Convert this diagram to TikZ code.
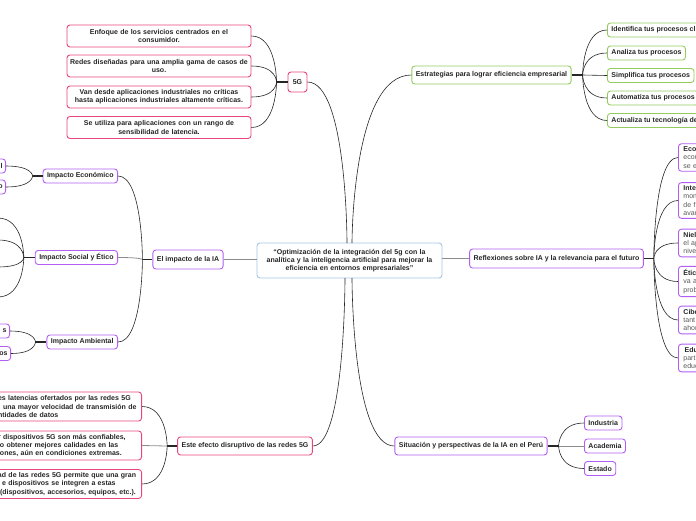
\documentclass[tikz,border=0pt]{standalone}
\usepackage{fontspec}
\setmainfont{Liberation Sans}
\usetikzlibrary{positioning}
\definecolor{rootc}{HTML}{A5C6E2}
\definecolor{pinkc}{HTML}{E8457C}
\definecolor{purpc}{HTML}{B25EF2}
\definecolor{greenc}{HTML}{93CB5E}
\definecolor{inkc}{HTML}{262626}

\begin{document}
\begin{tikzpicture}[
        x=1pt, y=-1pt,
        font=\fontsize{7}{8.2}\selectfont\bfseries,
        root/.style   = {draw=rootc, line width=0.9pt, rounded corners=3pt, fill=white, text=inkc, minimum width=185pt, minimum height=35pt, text width=179pt, align=center, inner sep=0pt},
        branch/.style = {draw=#1, line width=0.9pt, rounded corners=3pt, fill=white, text=inkc, minimum height=18pt, inner xsep=4pt, inner ysep=1pt},
        leaf/.style   = {branch=#1, minimum height=14pt},
        card/.style   = {branch=pinkc, minimum height=22pt, text width=180pt, align=center, inner xsep=2pt},
        blurb/.style  = {branch=pinkc, minimum height=29pt, text width=141pt, align=left, inner xsep=2.5pt, anchor=east},
        memo/.style   = {branch=purpc, text=black!65, font=\fontsize{7}{8.3}\selectfont\mdseries, text width=50pt, align=left, inner xsep=5pt, inner ysep=3pt, anchor=west},
        cut/.style    = {leaf=purpc, anchor=east, text width=26pt, align=right, inner xsep=3pt},
        link/.style   = {draw=black!85, line width=0.6pt},
        flat/.style   = {draw=black!45, line width=0.8pt},
        stub/.style   = {draw=black!85, line width=1.8pt},
    ]
        \useasboundingbox (0,0) rectangle (696,520);
        \clip (0,0) rectangle (696,520);

        % Root
        \node[root] (ctr) at (349.5,260.5) {“Optimización de la integración del 5g con la\\analítica y la inteligencia artificial para mejorar la\\eficiencia en entornos empresariales”};
        \coordinate (ct1) at (347,243);
        \coordinate (ct2) at (352,243);
        \coordinate (cb1) at (345,278);
        \coordinate (cb2) at (352,278);

        % 5G
        \node[branch=pinkc, minimum width=19pt, minimum height=20pt, inner xsep=2pt] (g5) at (297.5,82) {5G};
        \coordinate[left=11pt of g5.west] (j5);
        \node[card] (g5a) at (159,36) {Enfoque de los servicios centrados en el\\consumidor.};
        \node[card] (g5b) at (159,66) {Redes diseñadas para una amplia gama de casos de\\uso.};
        \node[card] (g5c) at (159,97) {Van desde aplicaciones industriales no críticas\\hasta aplicaciones industriales altamente críticas.};
        \node[card] (g5d) at (159,127.5) {Se utiliza para aplicaciones con un rango de\\sensibilidad de latencia.};

        % Estrategias
        \node[branch=greenc] (est) at (491.5,75) {Estrategias para lograr eficiencia empresarial};
        \coordinate[right=11pt of est.east] (je);
        \node[leaf=greenc, anchor=west] (esa) at (607,30) {Identifica tus procesos cl};
        \node[leaf=greenc, anchor=west] (esb) at (607,53) {Analiza tus procesos};
        \node[leaf=greenc, anchor=west] (esc) at (607,75.5) {Simplifica tus procesos};
        \node[leaf=greenc, anchor=west] (esd) at (607,98) {Automatiza tus procesos};
        \node[leaf=greenc, anchor=west] (ese) at (607,120.5) {Actualiza tu tecnología de};

        % El impacto de la IA
        \node[branch=purpc, minimum height=19pt] (ia) at (188,259.5) {El impacto de la IA};
        \coordinate[left=10pt of ia.west] (ji);
        \node[leaf=purpc, anchor=east] (eco) at (118,176) {Impacto Económico};
        \node[leaf=purpc, anchor=east] (soc) at (118,257.5) {Impacto Social y Ético};
        \node[leaf=purpc, anchor=east] (amb) at (118,342) {Impacto Ambiental};
        \coordinate[left=10pt of eco.west] (jeco);
        \coordinate[left=11pt of soc.west] (jsoc);
        \coordinate[left=11pt of amb.west] (jamb);
        \node[cut] (eco1) at (6,166) {l};
        \node[cut] (eco2) at (6,187) {o};
        \coordinate (soc1) at (-2,218);
        \coordinate (soc2) at (-2,240);
        \coordinate (soc3) at (-2,267);
        \coordinate (soc4) at (-2,297);
        \node[cut] (amb1) at (10,331) {s};
        \node[cut] (amb2) at (11,353.5) {os};

        % Reflexiones
        \node[branch=purpc, minimum height=19pt] (ref) at (556.5,258.5) {Reflexiones sobre IA y la relevancia para el futuro};
        \coordinate[right=10pt of ref.east] (jr);
        \node[memo] (ref1) at (678,157.5) {\textbf{\color{inkc}Eco}\\econo\\se e};
        \node[memo] (ref2) at (678,200.5) {\textbf{\color{inkc}Inte}\\mon\\de f\\avan};
        \node[memo] (ref3) at (678,243) {\textbf{\color{inkc}Niel}\\el ap\\nive};
        \node[memo] (ref4) at (678,281.5) {\textbf{\color{inkc}Étic}\\va a\\prob};
        \node[memo] (ref5) at (678,320) {\textbf{\color{inkc}Cibe}\\tant\\ahor};
        \node[memo] (ref6) at (678,358) {\textbf{\color{inkc}\,Edu}\\part\\educ};

        % Efecto disruptivo
        \node[branch=pinkc] (efe) at (245,446) {Este efecto disruptivo de las redes 5G};
        \coordinate[left=10pt of efe.west] (jf);
        \node[blurb] (efe1) at (142,406.5) {es latencias ofertados por las redes 5G\\\hspace{5pt}una mayor velocidad de transmisión de\\ntidades de datos};
        \node[blurb] (efe2) at (142,445.5) {r dispositivos 5G son más confiables,\\lo obtener mejores calidades en las\\iones, aún en condiciones extremas.};
        \node[blurb] (efe3) at (142,484) {\hspace*{-2pt}lad de las redes 5G permite que una gran\\\hspace{4pt}e dispositivos se integren a estas\\\hspace{2pt}(dispositivos, accesorios, equipos, etc.).};

        % Situacion en el Peru
        \node[branch=purpc] (sit) at (471,446) {Situación y perspectivas de la IA en el Perú};
        \coordinate[right=11pt of sit.east] (jp);
        \node[leaf=purpc, anchor=west] (ind) at (584,423) {Industria};
        \node[leaf=purpc, anchor=west] (aca) at (584,446) {Academia};
        \node[leaf=purpc, anchor=west] (sta) at (584,468.5) {Estado};

        % Root links
        \draw[link] (g5.east) .. controls (g5.east -| ct1) and (ct1) .. (ct1);
        \draw[link] (est.west) .. controls (est.west -| ct2) and (ct2) .. (ct2);
        \draw[link] (efe.east) .. controls (efe.east -| cb1) and (cb1) .. (cb1);
        \draw[link] (sit.west) .. controls (sit.west -| cb2) and (cb2) .. (cb2);
        \draw[flat] (ia.east) -- (ia.east -| ctr.west);
        \draw[flat] (ref.west) -- (ref.west -| ctr.east);

        % Stubs
        \draw[stub] (j5) -- (g5.west);
        \draw[stub] (je) -- (est.east);
        \draw[stub] (ji) -- (ia.west);
        \draw[stub] (jeco) -- (eco.west);
        \draw[stub] (jsoc) -- (soc.west);
        \draw[stub] (jamb) -- (amb.west);
        \draw[stub] (jr) -- (ref.east);
        \draw[stub] (jf) -- (efe.west);
        \draw[stub] (jp) -- (sit.east);

        % 5G links
        \draw[link] (g5a.east) .. controls (g5a.east -| j5) and (j5) .. (j5);
        \draw[link] (g5b.east) .. controls (g5b.east -| j5) and (j5) .. (j5);
        \draw[link] (g5c.east) .. controls (g5c.east -| j5) and (j5) .. (j5);
        \draw[link] (g5d.east) .. controls (g5d.east -| j5) and (j5) .. (j5);

        % Estrategias links
        \draw[link] (esa.west) .. controls (esa.west -| je) and (je) .. (je);
        \draw[link] (esb.west) .. controls (esb.west -| je) and (je) .. (je);
        \draw[link] (esc.west) -- (je);
        \draw[link] (esd.west) .. controls (esd.west -| je) and (je) .. (je);
        \draw[link] (ese.west) .. controls (ese.west -| je) and (je) .. (je);

        % Impacto links
        \draw[link] (eco.east) .. controls (eco.east -| ji) and (ji) .. (ji);
        \draw[flat] (soc.east) .. controls (soc.east -| ji) and (ji) .. (ji);
        \draw[link] (amb.east) .. controls (amb.east -| ji) and (ji) .. (ji);
        \draw[link] (eco1.east) .. controls (eco1.east -| jeco) and (jeco) .. (jeco);
        \draw[link] (eco2.east) .. controls (eco2.east -| jeco) and (jeco) .. (jeco);
        \draw[link] (soc1) .. controls (soc1 -| jsoc) and (jsoc) .. (jsoc);
        \draw[link] (soc2) .. controls (soc2 -| jsoc) and (jsoc) .. (jsoc);
        \draw[link] (soc3) .. controls (soc3 -| jsoc) and (jsoc) .. (jsoc);
        \draw[link] (soc4) .. controls (soc4 -| jsoc) and (jsoc) .. (jsoc);
        \draw[link] (amb1.east) .. controls (amb1.east -| jamb) and (jamb) .. (jamb);
        \draw[link] (amb2.east) .. controls (amb2.east -| jamb) and (jamb) .. (jamb);

        % Reflexiones links
        \draw[link] (ref1.west) .. controls (ref1.west -| jr) and (jr) .. (jr);
        \draw[link] (ref2.west) .. controls (ref2.west -| jr) and (jr) .. (jr);
        \draw[link] (ref3.west) .. controls (ref3.west -| jr) and (jr) .. (jr);
        \draw[link] (ref4.west) .. controls (ref4.west -| jr) and (jr) .. (jr);
        \draw[link] (ref5.west) .. controls (ref5.west -| jr) and (jr) .. (jr);
        \draw[link] (ref6.west) .. controls (ref6.west -| jr) and (jr) .. (jr);

        % Efecto links
        \draw[link] (efe1.east) .. controls (efe1.east -| jf) and (jf) .. (jf);
        \draw[flat] (efe2.east) -- (jf);
        \draw[link] (efe3.east) .. controls (efe3.east -| jf) and (jf) .. (jf);

        % Peru links
        \draw[link] (ind.west) .. controls (ind.west -| jp) and (jp) .. (jp);
        \draw[flat] (aca.west) -- (jp);
        \draw[link] (sta.west) .. controls (sta.west -| jp) and (jp) .. (jp);
    \end{tikzpicture}
\end{document}
